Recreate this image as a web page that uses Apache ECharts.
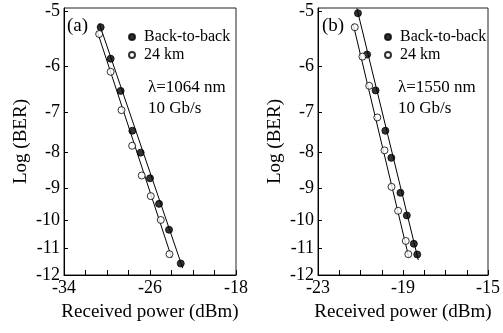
<!DOCTYPE html>
<html>
<head>
<meta charset="utf-8">
<script src="https://cdn.jsdelivr.net/npm/echarts@6/dist/echarts.min.js"></script>
<style>
  html, body { margin: 0; padding: 0; background: #fff; }
  #chart { width: 503px; height: 333px; }
</style>
</head>
<body>
<div id="chart"></div>
<script>
// y values are the magnitude of Log(BER), e.g. 8 means Log(BER) = -8
const yTicks = [5, 6, 7, 8, 9, 10, 11, 12]

// (a) 1064 nm
const aXLabels = [-34, -26, -18]
const aB2B = [
  [-30.59, 5.28], [-29.66, 5.86], [-28.73, 6.52], [-27.64, 7.44], [-26.87, 8.00],
  [-26.0, 8.71], [-25.16, 9.48], [-24.23, 10.33], [-23.14, 11.55],
]
const a24km = [
  [-30.73, 5.40], [-29.66, 6.12], [-28.65, 6.95], [-27.66, 7.82], [-26.77, 8.63],
  [-25.93, 9.24], [-25.0, 10.00], [-24.19, 11.20],
]
const aFitB2B = [[-30.73, 5.21], [-22.96, 11.73]]
const aFit24km = [[-30.91, 5.35], [-23.98, 11.34]]

// (b) 1550 nm
const bXLabels = [-23, -19, -15]
const bB2B = [
  [-21.12, 5.04], [-20.69, 5.78], [-20.29, 6.51], [-19.83, 7.44], [-19.55, 8.14],
  [-19.12, 9.14], [-18.82, 9.85], [-18.49, 10.82], [-18.33, 11.21],
]
const b24km = [
  [-21.27, 5.28], [-20.91, 5.82], [-20.59, 6.41], [-20.21, 7.12], [-19.87, 7.94],
  [-19.54, 8.96], [-19.23, 9.70], [-18.87, 10.72], [-18.75, 11.20],
]
const bFitB2B = [[-21.17, 4.96], [-18.28, 11.42]]
const bFit24km = [[-21.35, 5.22], [-18.72, 11.34]]

const FONT = '"Liberation Serif", "Times New Roman", serif'

function xAxisFor(idx, min, max, interval, labels) {
  return {
    gridIndex: idx,
    type: 'value',
    min: min,
    max: max,
    interval: interval,
    name: 'Received power (dBm)',
    nameLocation: 'middle',
    nameGap: 28,
    nameTextStyle: { fontFamily: FONT, fontSize: 19, color: '#000' },
    axisLine: { show: true, lineStyle: { color: '#000', width: 1 } },
    axisTick: { show: true, inside: true, length: 5, lineStyle: { color: '#000' } },
    axisLabel: {
      customValues: labels,
      margin: 4,
      fontFamily: FONT,
      fontSize: 18,
      color: '#000',
    },
    splitLine: { show: false },
  }
}

function yAxisFor(idx) {
  return {
    gridIndex: idx,
    type: 'log',
    logBase: 10,
    min: 4.954,
    max: 12,
    inverse: true,
    name: 'Log (BER)',
    nameLocation: 'middle',
    nameGap: 33,
    nameRotate: 90,
    nameTextStyle: { fontFamily: FONT, fontSize: 19, color: '#000' },
    axisLine: { show: true, lineStyle: { color: '#000', width: 1 } },
    axisTick: { show: true, inside: true, length: 4, customValues: yTicks, lineStyle: { color: '#000' } },
    axisLabel: {
      customValues: yTicks,
      margin: 4,
      fontFamily: FONT,
      fontSize: 18,
      color: '#000',
      formatter: (v) => '-' + Math.round(v),
    },
    splitLine: { show: false },
  }
}

function dots(name, idx, data, filled) {
  return {
    name: name,
    type: 'scatter',
    xAxisIndex: idx,
    yAxisIndex: idx,
    data: data,
    symbol: 'circle',
    symbolSize: 7,
    z: 3,
    itemStyle: filled
      ? { color: '#000', borderColor: '#000', borderWidth: 1 }
      : { color: '#fff', borderColor: '#000', borderWidth: 1 },
  }
}

function fit(idx, data) {
  return {
    type: 'line',
    xAxisIndex: idx,
    yAxisIndex: idx,
    data: data,
    symbol: 'none',
    silent: true,
    z: 2,
    lineStyle: { color: '#000', width: 1 },
  }
}

function legendFor(left) {
  return {
    left: left,
    top: 24,
    orient: 'vertical',
    itemWidth: 14,
    itemHeight: 6,
    itemGap: 2,
    selectedMode: false,
    data: ['Back-to-back', '24 km'],
    textStyle: { fontFamily: FONT, fontSize: 16, color: '#000' },
  }
}

function label(text, x, y, size) {
  return {
    type: 'text',
    left: x,
    top: y,
    style: { text: text, fontFamily: FONT, fontSize: size, fill: '#000' },
  }
}

const option = {
  animation: false,
  grid: [
    { left: 64, top: 8, width: 172, height: 267, show: true, borderColor: '#222', borderWidth: 1 },
    { left: 318, top: 8, width: 173, height: 267, show: true, borderColor: '#222', borderWidth: 1 },
  ],
  xAxis: [
    xAxisFor(0, -34, -18, 2, aXLabels),
    xAxisFor(1, -23, -15, 1, bXLabels),
  ],
  yAxis: [yAxisFor(0), yAxisFor(1)],
  legend: [legendFor(123), legendFor(379)],
  graphic: [
    label('(a)', 67, 17, 19),
    label('(b)', 322, 17, 19),
    label('λ=1064 nm', 148, 79, 17),
    label('10 Gb/s', 148, 100, 17),
    label('λ=1550 nm', 398, 79, 17),
    label('10 Gb/s', 398, 100, 17),
  ],
  series: [
    fit(0, aFitB2B),
    fit(0, aFit24km),
    dots('Back-to-back', 0, aB2B, true),
    dots('24 km', 0, a24km, false),
    fit(1, bFitB2B),
    fit(1, bFit24km),
    dots('Back-to-back', 1, bB2B, true),
    dots('24 km', 1, b24km, false),
  ],
}

const chart = echarts.init(document.getElementById('chart'), null, { renderer: 'canvas' })
chart.setOption(option)
</script>
</body>
</html>
